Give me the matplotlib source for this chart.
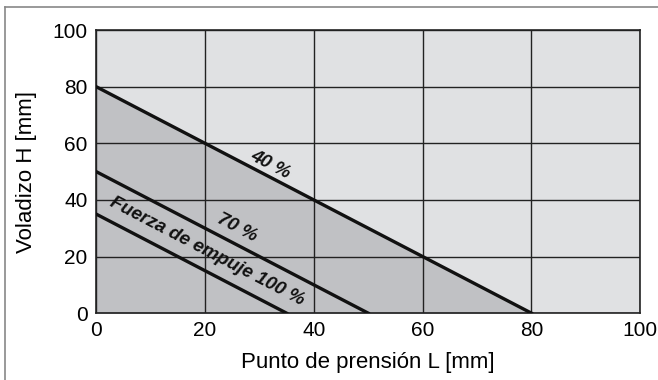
import matplotlib.pyplot as plt
from matplotlib.lines import Line2D

# values
L_40 = [0, 80]
H_40 = [80, 0]
L_70 = [0, 50]
H_70 = [50, 0]
L_100 = [0, 35]
H_100 = [35, 0]
ticks = [0, 20, 40, 60, 80, 100]

plt.rcParams['font.family'] = ['Liberation Sans', 'DejaVu Sans']

fig = plt.figure(figsize=(6.58, 3.8), dpi=100)
ax = fig.add_axes([0.146, 0.176, 0.827, 0.745])

# background and area under the 40 % line
ax.set_facecolor('#e0e1e3')
ax.fill_between(L_40, H_40, 0, color='#c0c1c4', zorder=1)

ax.set_xlim(0, 100)
ax.set_ylim(0, 100)
ax.set_xticks(ticks)
ax.set_yticks(ticks)
ax.grid(True, color='#222222', linewidth=1.0, zorder=2)
ax.set_axisbelow(False)
ax.tick_params(length=0, labelsize=15, pad=6)
for s in ax.spines.values():
    s.set_color('#222222')
    s.set_linewidth(1.2)

lw = 2.4
ax.plot(L_40, H_40, color='#111111', linewidth=lw, zorder=3)
ax.plot(L_70, H_70, color='#111111', linewidth=lw, zorder=3)
ax.plot(L_100, H_100, color='#111111', linewidth=lw, zorder=3)

#labels along the lines
rot = -27.5
fs = 13.5
ax.text(32, 52.5, '40 %', rotation=rot, fontsize=fs, fontweight='bold', fontstyle='italic',
        ha='center', va='center', color='#111111', zorder=4)
ax.text(25.9, 30, '70 %', rotation=rot, fontsize=fs, fontweight='bold', fontstyle='italic',
        ha='center', va='center', color='#111111', zorder=4)
ax.text(20.4, 21.6, 'Fuerza de empuje 100 %', rotation=rot, fontsize=fs, fontweight='bold',
        fontstyle='italic', ha='center', va='center', color='#111111', zorder=4)

ax.set_xlabel('Punto de prensión L [mm]', fontsize=16, labelpad=8)
ax.set_ylabel('Voladizo H [mm]', fontsize=16, labelpad=11)

# outer frame (left and top edges visible)
fig.add_artist(Line2D([5 / 658, 5 / 658], [0, 1 - 7 / 380], color='#888888', linewidth=1.2))
fig.add_artist(Line2D([5 / 658, 1], [1 - 7 / 380, 1 - 7 / 380], color='#888888', linewidth=1.2))

fig.savefig('out.png', dpi=100)
